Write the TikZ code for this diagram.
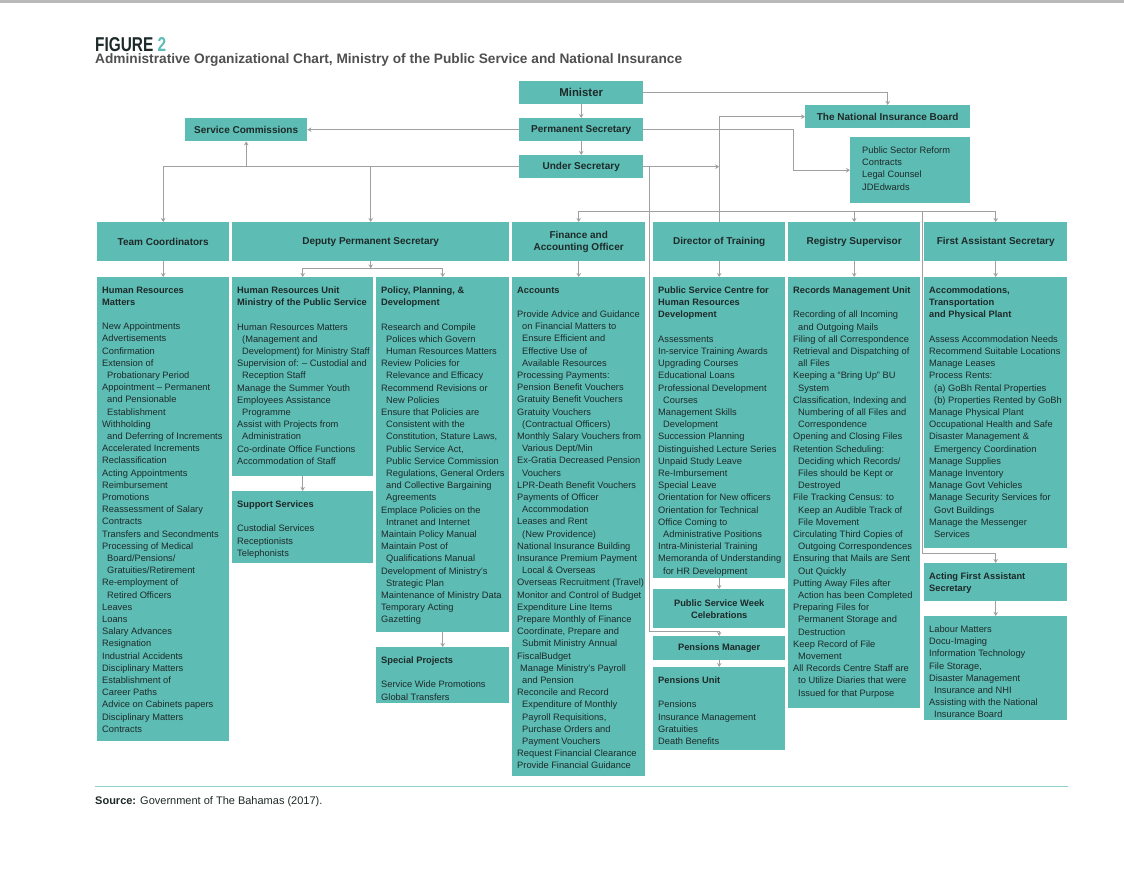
\documentclass[tikz,border=0pt]{standalone}
\usepackage{fontspec}
\setmainfont{Liberation Sans}
\newfontfamily\figfont[FakeStretch=0.77]{Liberation Sans}
\usetikzlibrary{arrows.meta}

\definecolor{boxteal}{HTML}{5DBCB4}
\definecolor{inkdark}{HTML}{1E2A29}
\definecolor{wiregray}{HTML}{A0A0A0}
\definecolor{subgray}{HTML}{505050}

\newcommand{\ind}{\hspace*{5pt}}

\tikzset{
  unit/.style={fill=boxteal, anchor=north west, inner sep=0pt},
  head/.style={fill=boxteal, anchor=north west, inner sep=2pt, align=center,
    text=inkdark, font=\fontsize{10}{12}\selectfont\bfseries},
  subhead/.style={head, font=\fontsize{9.3}{12}\selectfont\bfseries},
  list/.style={anchor=north west, inner xsep=5pt, inner ysep=9.5pt, align=left,
    text=inkdark, font=\fontsize{9.3}{12.2}\selectfont},
  wire/.style={color=wiregray, line width=0.8pt},
  link/.style={wire, -{Stealth[length=4pt,width=4.5pt]}}
}

\begin{document}
\begin{tikzpicture}[x=1pt, y=-1pt]
  \useasboundingbox (0,0) rectangle (1124,878);
  \fill[white] (0,0) rectangle (1124,878);
  \draw[gray!55, line width=2.5pt] (0,1.25) -- (1124,1.25);

  % heading
  \node[anchor=base west, inner sep=0pt, text depth=0pt, text=inkdark] (figlabel) at (95,51.5)
    {\figfont\fontsize{20}{20}\selectfont\bfseries FIGURE \textcolor{boxteal}{2}};
  \node[anchor=base west, inner sep=0pt, text=subgray] (figtitle) at (95,63.5)
    {\fontsize{13.7}{15}\selectfont\bfseries Administrative Organizational Chart, Ministry of the Public Service and National Insurance};

  % top of the chart
  \node[head, minimum width=124, minimum height=23, font=\fontsize{11.4}{13}\selectfont\bfseries] (minister) at (519,81) {Minister};
  \node[head, minimum width=124, minimum height=23] (ps) at (519,118) {Permanent Secretary};
  \node[head, minimum width=124, minimum height=23] (us) at (519,155) {Under Secretary};
  \node[head, minimum width=122, minimum height=23] (sc) at (185,118) {Service Commissions};
  \node[head, minimum width=165, minimum height=23] (nib) at (805,105) {The National Insurance Board};
  \node[unit, minimum width=120, minimum height=66] (psr) at (850,137) {};
  \node[list, xshift=7pt] (psrtext) at (psr.north west)
    {Public Sector Reform\\ Contracts\\ Legal Counsel\\ JDEdwards};

  % second row
  \node[head, minimum width=132, minimum height=39] (tc) at (97,222) {Team Coordinators};
  \node[head, minimum width=277, minimum height=39] (dps) at (232,222) {Deputy Permanent Secretary};
  \node[head, minimum width=133, minimum height=39] (fin) at (512,222) {Finance and\\ Accounting Officer};
  \node[head, minimum width=132, minimum height=39] (dot) at (653,222) {Director of Training};
  \node[head, minimum width=132, minimum height=39] (reg) at (788,222) {Registry Supervisor};
  \node[head, minimum width=143, minimum height=39] (fas) at (924,222) {First Assistant Secretary};

  % units
  \node[unit, minimum width=132, minimum height=464] (hrm) at (97,277) {};
  \node[list] (hrmtext) at (hrm.north west)
    {\textbf{Human Resources}\\ \textbf{Matters}\\[12.2pt]
     New Appointments\\ Advertisements\\ Confirmation\\ Extension of\\
     \ind Probationary Period\\ Appointment -- Permanent\\ \ind and Pensionable\\
     \ind Establishment\\ Withholding\\ \ind and Deferring of Increments\\
     Accelerated Increments\\ Reclassification\\ Acting Appointments\\
     Reimbursement\\ Promotions\\ Reassessment of Salary\\ Contracts\\
     Transfers and Secondments\\ Processing of Medical\\ \ind Board/Pensions/\\
     \ind Gratuities/Retirement\\ Re-employment of\\ \ind Retired Officers\\
     Leaves\\ Loans\\ Salary Advances\\ Resignation\\ Industrial Accidents\\
     Disciplinary Matters\\ Establishment of\\ Career Paths\\
     Advice on Cabinets papers\\ Disciplinary Matters\\ Contracts};

  \node[unit, minimum width=141, minimum height=199] (hru) at (232,277) {};
  \node[list] (hrutext) at (hru.north west)
    {\textbf{Human Resources Unit}\\ \textbf{Ministry of the Public Service}\\[12.2pt]
     Human Resources Matters\\ \ind (Management and\\
     \ind Development) for Ministry Staff\\ Supervision of: -- Custodial and\\
     \ind Reception Staff\\ Manage the Summer Youth\\ Employees Assistance\\
     \ind Programme\\ Assist with Projects from\\ \ind Administration\\
     Co-ordinate Office Functions\\ Accommodation of Staff};

  \node[unit, minimum width=141, minimum height=72] (sup) at (232,491) {};
  \node[list] (suptext) at (sup.north west)
    {\textbf{Support Services}\\[12.2pt]
     Custodial Services\\ Receptionists\\ Telephonists};

  \node[unit, minimum width=133, minimum height=355] (pol) at (376,277) {};
  \node[list] (poltext) at (pol.north west)
    {\textbf{Policy, Planning, \&}\\ \textbf{Development}\\[12.2pt]
     Research and Compile\\ \ind Polices which Govern\\ \ind Human Resources Matters\\
     Review Policies for\\ \ind Relevance and Efficacy\\ Recommend Revisions or\\
     \ind New Policies\\ Ensure that Policies are\\ \ind Consistent with the\\
     \ind Constitution, Stature Laws,\\ \ind Public Service Act,\\
     \ind Public Service Commission\\ \ind Regulations, General Orders\\
     \ind and Collective Bargaining\\ \ind Agreements\\ Emplace Policies on the\\
     \ind Intranet and Internet\\ Maintain Policy Manual\\ Maintain Post of\\
     \ind Qualifications Manual\\ Development of Ministry's\\ \ind Strategic Plan\\
     Maintenance of Ministry Data\\ Temporary Acting\\ Gazetting};

  \node[unit, minimum width=133, minimum height=56] (spc) at (376,647) {};
  \node[list] (spctext) at (spc.north west)
    {\textbf{Special Projects}\\[12.2pt]
     Service Wide Promotions\\ Global Transfers};

  \node[unit, minimum width=133, minimum height=499] (acc) at (512,277) {};
  \node[list] (acctext) at (acc.north west)
    {\textbf{Accounts}\\[12.2pt]
     Provide Advice and Guidance\\ \ind on Financial Matters to\\
     \ind Ensure Efficient and\\ \ind Effective Use of\\ \ind Available Resources\\
     Processing Payments:\\ Pension Benefit Vouchers\\ Gratuity Benefit Vouchers\\
     Gratuity Vouchers\\ \ind (Contractual Officers)\\ Monthly Salary Vouchers from\\
     \ind Various Dept/Min\\ Ex-Gratia Decreased Pension\\ \ind Vouchers\\
     LPR-Death Benefit Vouchers\\ Payments of Officer\\ \ind Accommodation\\
     Leases and Rent\\ \ind (New Providence)\\ National Insurance Building\\
     Insurance Premium Payment\\ \ind Local \& Overseas\\
     Overseas Recruitment (Travel)\\ Monitor and Control of Budget\\
     Expenditure Line Items\\ Prepare Monthly of Finance\\ Coordinate, Prepare and\\
     \ind Submit Ministry Annual\\ FiscalBudget\\ \hspace*{3pt}Manage Ministry's Payroll\\
     \ind and Pension\\ Reconcile and Record\\ \ind Expenditure of Monthly\\
     \ind Payroll Requisitions,\\ \ind Purchase Orders and\\ \ind Payment Vouchers\\
     Request Financial Clearance\\ Provide Financial Guidance};

  \node[unit, minimum width=132, minimum height=301] (psc) at (653,277) {};
  \node[list] (psctext) at (psc.north west)
    {\textbf{Public Service Centre for}\\ \textbf{Human Resources}\\
     \textbf{Development}\\[12.2pt]
     Assessments\\ In-service Training Awards\\ Upgrading Courses\\
     Educational Loans\\ Professional Development\\ \ind Courses\\
     Management Skills\\ \ind Development\\ Succession Planning\\
     Distinguished Lecture Series\\ Unpaid Study Leave\\ Re-Imbursement\\
     Special Leave\\ Orientation for New officers\\ Orientation for Technical\\
     Office Coming to\\ \ind Administrative Positions\\ Intra-Ministerial Training\\
     Memoranda of Understanding\\ \ind for HR Development};

  \node[subhead, minimum width=132, minimum height=39] (psw) at (653,589) {Public Service Week\\ Celebrations};
  \node[subhead, minimum width=132, minimum height=24] (pm) at (653,636) {Pensions Manager};

  \node[unit, minimum width=132, minimum height=83] (pu) at (653,667) {};
  \node[list] (putext) at (pu.north west)
    {\textbf{Pensions Unit}\\[12.2pt]
     Pensions\\ Insurance Management\\ Gratuities\\ Death Benefits};

  \node[unit, minimum width=132, minimum height=431] (rec) at (788,277) {};
  \node[list] (rectext) at (rec.north west)
    {\textbf{Records Management Unit}\\[12.2pt]
     Recording of all Incoming\\ \ind and Outgoing Mails\\
     Filing of all Correspondence\\ Retrieval and Dispatching of\\ \ind all Files\\
     Keeping a “Bring Up” BU\\ \ind System\\ Classification, Indexing and\\
     \ind Numbering of all Files and\\ \ind Correspondence\\
     Opening and Closing Files\\ Retention Scheduling:\\ \ind Deciding which Records/\\
     \ind Files should be Kept or\\ \ind Destroyed\\ File Tracking Census: to\\
     \ind Keep an Audible Track of\\ \ind File Movement\\
     Circulating Third Copies of\\ \ind Outgoing Correspondences\\
     Ensuring that Mails are Sent\\ \ind Out Quickly\\ Putting Away Files after\\
     \ind Action has been Completed\\ Preparing Files for\\
     \ind Permanent Storage and\\ \ind Destruction\\ Keep Record of File\\
     \ind Movement\\ All Records Centre Staff are\\ \ind to Utilize Diaries that were\\
     \ind Issued for that Purpose};

  \node[unit, minimum width=143, minimum height=271] (acm) at (924,277) {};
  \node[list] (acmtext) at (acm.north west)
    {\textbf{Accommodations,}\\ \textbf{Transportation}\\
     \textbf{and Physical Plant}\\[12.2pt]
     Assess Accommodation Needs\\ Recommend Suitable Locations\\ Manage Leases\\
     Process Rents:\\ \ind (a) GoBh Rental Properties\\
     \ind (b) Properties Rented by GoBh\\ Manage Physical Plant\\
     Occupational Health and Safe\\ Disaster Management \&\\
     \ind Emergency Coordination\\ Manage Supplies\\ Manage Inventory\\
     Manage Govt Vehicles\\ Manage Security Services for\\ \ind Govt Buildings\\
     Manage the Messenger\\ \ind Services};

  \node[unit, minimum width=143, minimum height=38] (afas) at (924,563) {};
  \node[list] (afastext) at (afas.north west)
    {\textbf{Acting First Assistant}\\ \textbf{Secretary}};

  \node[unit, minimum width=143, minimum height=104] (lab) at (924,616) {};
  \node[list] (labtext) at (lab.north west)
    {Labour Matters\\ Docu-Imaging\\ Information Technology\\ File Storage,\\
     Disaster Management\\ \ind Insurance and NHI\\ Assisting with the National\\
     \ind Insurance Board};

  % junctions
  \coordinate (psbend) at (793,150);
  \coordinate (usjoin) at (dot.north |- us.east);
  \coordinate (usdrop) at (649,166.5);
  \coordinate (pmtop) at ([yshift=5pt]pm.north);
  \coordinate (busl) at ([yshift=11pt]fin.north);
  \coordinate (busr) at ([yshift=11pt]fas.north);
  \coordinate (afdrop) at (922,211);
  \coordinate (aftop) at ([yshift=10pt]afas.north);
  \coordinate (dpssplit) at ([yshift=-7pt]dps.south);

  \begin{scope}[link]
    \draw (minister) to (ps);
    \draw (ps) to (us);
    \draw (ps) to (sc);
    \draw (minister.east) -| (nib.north);
    \draw (ps.east) -| (psbend) |- (psr.west);
    \draw (us.east) to (usjoin);
    \draw (dot.north) |- (nib.west);
    \draw (usdrop) |- (pmtop) -- (pm.north);
    \draw (us.west) -| (tc.north);
    \draw (sc.south |- us.west) to (sc.south);
    \draw (dps.north |- us.west) to (dps.north);
    \draw (busl) to (fin.north);
    \draw (reg.north |- busl) to (reg.north);
    \draw (busr) to (fas.north);
    \draw (afdrop) |- (aftop) -- (afas.north);
    \draw (dps.south) to (dpssplit);
    \draw (dpssplit) -| (hru.north);
    \draw (dpssplit) -| (pol.north);
    \draw (tc) to (hrm);
    \draw (fin) to (acc);
    \draw (dot) to (psc);
    \draw (reg) to (rec);
    \draw (fas) to (acm);
    \draw (hru) to (sup);
    \draw (pol) to (spc);
    \draw (psc) to (psw);
    \draw (pm) to (pu);
    \draw (afas) to (lab);
  \end{scope}
  \draw[wire] (busl) -- (busr);

  % source line
  \draw[boxteal!70, line width=0.8pt] (95,786) -- (1068,786);
  \node[anchor=base west, inner sep=0pt, text=inkdark, font=\fontsize{11}{13}\selectfont] (source) at (95,804)
    {\textbf{Source:} Government of The Bahamas (2017).};
\end{tikzpicture}
\end{document}
